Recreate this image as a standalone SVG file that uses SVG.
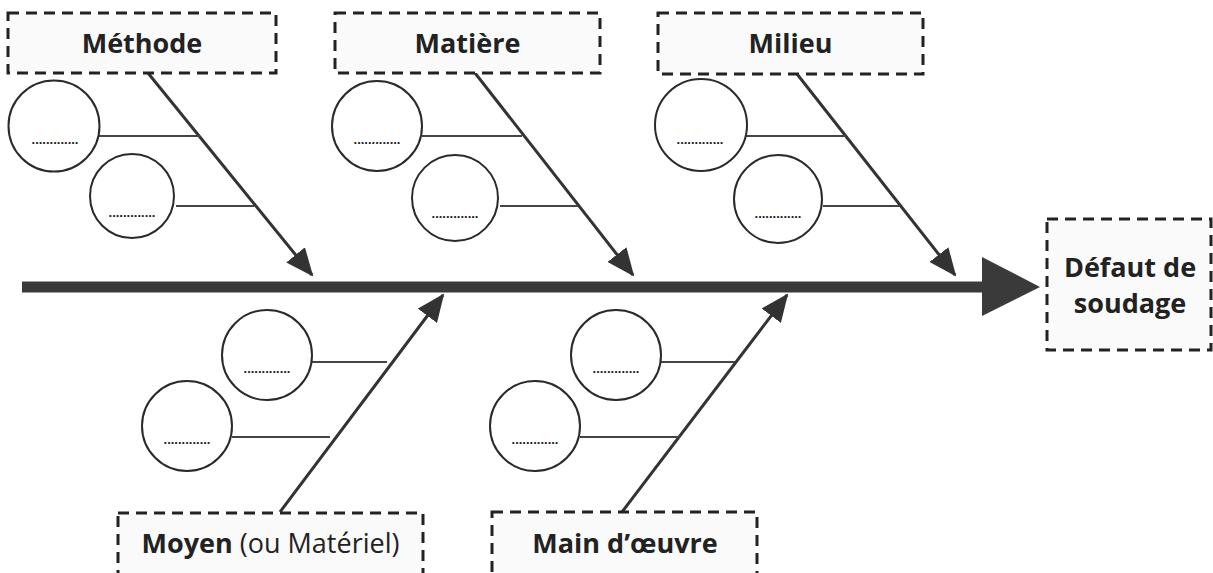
<svg xmlns="http://www.w3.org/2000/svg" width="1213" height="573" viewBox="0 0 1213 573">
<style>
.box{fill:#fafafa;stroke:#222;stroke-width:3;stroke-dasharray:11 7}
.lbl{font-family:"Open Sans","Liberation Sans",sans-serif;font-weight:bold;fill:#222;text-anchor:middle;font-size:27px}
.reg{font-weight:normal}
.c{fill:#fff;stroke:#2a2a2a;stroke-width:2}
.dots{font-family:"Liberation Sans",sans-serif;font-weight:bold;font-size:13px;fill:#222;text-anchor:middle}
.br{stroke:#444;stroke-width:2;fill:none}
.arr{stroke:#333;stroke-width:3;fill:none;marker-end:url(#ah)}
</style>
<defs>
<marker id="ah" markerUnits="userSpaceOnUse" markerWidth="28" markerHeight="24" refX="26" refY="12" orient="auto">
<path d="M0,0 L28,12 L0,24 z" fill="#333"/>
</marker>
</defs>
<rect width="1213" height="573" fill="#fff"/>

<g id="connectors">
<rect x="22" y="281.5" width="962" height="11" fill="#3a3a3a"/>
<path d="M982,257 L1040,287 L982,316 z" fill="#3a3a3a"/>
<line class="arr" x1="148" y1="73" x2="312" y2="275"/>
<line class="arr" x1="475" y1="73" x2="633" y2="275"/>
<line class="arr" x1="797" y1="74" x2="955" y2="275"/>
<line class="arr" x1="280" y1="512" x2="443" y2="295"/>
<line class="arr" x1="622" y1="512" x2="787" y2="295"/>
<line class="br" x1="99" y1="136" x2="200" y2="136"/>
<line class="br" x1="176" y1="206" x2="254" y2="206"/>
<line class="br" x1="422" y1="136" x2="522" y2="136"/>
<line class="br" x1="500" y1="206" x2="578" y2="206"/>
<line class="br" x1="746" y1="136" x2="846" y2="136"/>
<line class="br" x1="823" y1="206" x2="900" y2="206"/>
<line class="br" x1="312" y1="362" x2="387" y2="362"/>
<line class="br" x1="232" y1="437" x2="330" y2="437"/>
<line class="br" x1="660" y1="362" x2="735" y2="362"/>
<line class="br" x1="580" y1="437" x2="680" y2="437"/>
</g>

<g id="methode">
<rect class="box" x="8" y="13" width="268" height="60"/>
<text class="lbl" x="142" y="53">Méthode</text>
</g>
<g id="matiere">
<rect class="box" x="335" y="13" width="265" height="60"/>
<text class="lbl" x="467.5" y="53">Matière</text>
</g>
<g id="milieu">
<rect class="box" x="658" y="13" width="265" height="61"/>
<text class="lbl" x="790.5" y="53">Milieu</text>
</g>
<g id="defaut">
<rect class="box" x="1047" y="219" width="164" height="131"/>
<text class="lbl" x="1130" y="277">Défaut de</text>
<text class="lbl" x="1130" y="313">soudage</text>
</g>
<g id="moyen">
<rect class="box" x="118" y="513" width="305" height="80"/>
<text class="lbl" x="270.5" y="553">Moyen <tspan class="reg">(ou Matériel)</tspan></text>
</g>
<g id="main">
<rect class="box" x="492" y="512" width="265" height="80"/>
<text class="lbl" x="625" y="553">Main d’œuvre</text>
</g>

<g id="c-methode-1"><circle class="c" cx="54" cy="126" r="45.5"/><text class="dots" x="55" y="144">.............</text></g>
<g id="c-methode-2"><circle class="c" cx="132" cy="196" r="42"/><text class="dots" x="132" y="217">.............</text></g>
<g id="c-matiere-1"><circle class="c" cx="377" cy="126" r="45"/><text class="dots" x="377" y="144">.............</text></g>
<g id="c-matiere-2"><circle class="c" cx="455" cy="198" r="43"/><text class="dots" x="455" y="218">.............</text></g>
<g id="c-milieu-1"><circle class="c" cx="701" cy="125" r="46"/><text class="dots" x="700" y="144">.............</text></g>
<g id="c-milieu-2"><circle class="c" cx="778" cy="199" r="44"/><text class="dots" x="778" y="218">.............</text></g>
<g id="c-moyen-1"><circle class="c" cx="267" cy="355" r="45"/><text class="dots" x="267" y="373">.............</text></g>
<g id="c-moyen-2"><circle class="c" cx="187" cy="426" r="45"/><text class="dots" x="187" y="444">.............</text></g>
<g id="c-main-1"><circle class="c" cx="616" cy="355" r="45"/><text class="dots" x="616" y="373">.............</text></g>
<g id="c-main-2"><circle class="c" cx="535" cy="426" r="45"/><text class="dots" x="535" y="444">.............</text></g>
</svg>
